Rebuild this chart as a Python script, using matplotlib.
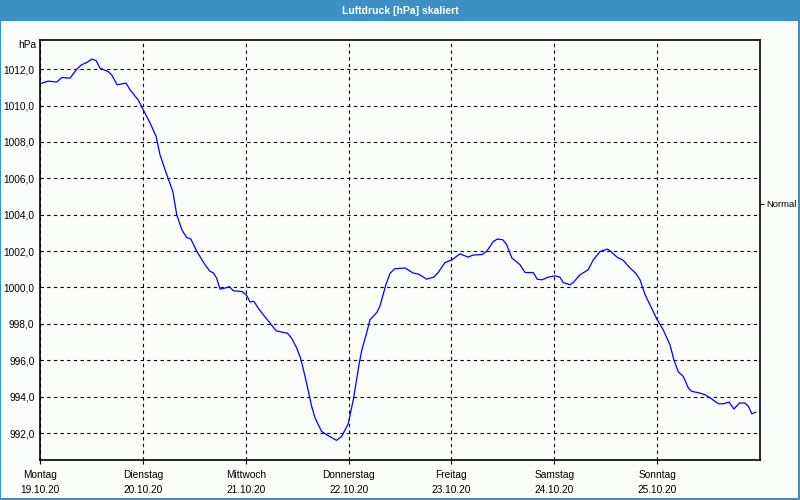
import matplotlib.pyplot as plt
from matplotlib.patches import Rectangle

# hours since Monday 19.10.20 00:00 and pressure in hPa
hours = [0.0, 1.9, 3.9, 5.1, 7.0, 8.6, 9.7, 10.9, 12.1, 13.1, 14.0, 15.9, 16.7,
         18.0, 20.1, 21.0, 22.9, 24.1, 25.7, 27.1, 28.0, 29.6, 31.0, 31.9, 33.1,
         34.2, 35.2, 36.6, 38.5, 39.7, 40.4, 41.2, 42.0, 43.2, 44.2, 45.1, 47.1,
         48.2, 49.0, 49.9, 50.9, 52.1, 53.7, 55.1, 56.4, 57.7, 58.7, 59.9, 60.7,
         61.1, 62.2, 63.4, 64.2, 65.7, 67.3, 69.2, 70.4, 71.9, 73.1, 74.5, 75.1,
         76.1, 77.0, 78.6, 79.3, 80.7, 81.7, 82.8, 85.2, 87.1, 88.3, 90.2, 91.9,
         92.9, 94.5, 96.1, 98.0, 99.9, 101.0, 103.1, 104.2, 105.8, 106.7, 108.0,
         108.9, 110.1, 112.0, 113.2, 115.1, 116.0, 117.1, 118.6, 120.2, 121.3,
         122.1, 123.7, 124.4, 126.0, 127.9, 129.1, 130.7, 132.4, 133.2, 134.6,
         136.1, 137.7, 139.1, 140.0, 141.2, 142.7, 144.0, 145.4, 147.0, 147.9,
         148.9, 150.1, 151.3, 152.1, 154.0, 155.2, 156.7, 158.3, 159.4, 160.8,
         161.9, 163.2, 164.5, 165.3, 166.1, 167.0]
pressure = [1011.19, 1011.34, 1011.29, 1011.54, 1011.50, 1012.00, 1012.24, 1012.36,
            1012.55, 1012.47, 1012.05, 1011.87, 1011.69, 1011.14, 1011.23, 1010.86,
            1010.31, 1009.76, 1009.03, 1008.30, 1007.29, 1006.19, 1005.27, 1004.00,
            1003.17, 1002.75, 1002.66, 1001.98, 1001.25, 1000.88, 1000.82, 1000.52,
            999.91, 999.97, 1000.05, 999.82, 999.78, 999.58, 999.20, 999.24, 998.87,
            998.50, 998.04, 997.62, 997.55, 997.49, 997.22, 996.67, 996.18, 995.85,
            994.75, 993.46, 992.82, 992.09, 991.85, 991.60, 991.82, 992.50, 993.83,
            995.85, 996.58, 997.40, 998.23, 998.63, 998.96, 1000.15, 1000.79, 1001.03,
            1001.07, 1000.79, 1000.74, 1000.46, 1000.57, 1000.82, 1001.37, 1001.52,
            1001.85, 1001.67, 1001.78, 1001.81, 1001.98, 1002.53, 1002.66, 1002.62,
            1002.35, 1001.62, 1001.25, 1000.82, 1000.82, 1000.46, 1000.42, 1000.57,
            1000.64, 1000.57, 1000.27, 1000.15, 1000.27, 1000.70, 1000.97, 1001.52,
            1001.98, 1002.11, 1001.98, 1001.67, 1001.49, 1001.07, 1000.76, 1000.42,
            999.60, 998.87, 998.23, 997.68, 996.85, 996.03, 995.38, 995.11, 994.47,
            994.29, 994.20, 994.10, 993.88, 993.61, 993.61, 993.70, 993.32, 993.65,
            993.65, 993.46, 993.06, 993.15]

day_names = ["Montag", "Dienstag", "Mittwoch", "Donnerstag", "Freitag", "Samstag", "Sonntag"]
day_dates = ["19.10.20", "20.10.20", "21.10.20", "22.10.20", "23.10.20", "24.10.20", "25.10.20"]
y_ticks = [992, 994, 996, 998, 1000, 1002, 1004, 1006, 1008, 1010, 1012]
normal_level = 1004.6

bar_blue = "#3d8fc4"
bg = "#fbfdfb"
plt.rcParams["font.family"] = ["Liberation Sans", "DejaVu Sans"]

fig = plt.figure(figsize=(8, 5), dpi=100, facecolor=bg)
ax = fig.add_axes([0.05, 0.08, 0.9, 0.84], facecolor=bg)

ax.plot(hours, pressure, color="#0000ff", lw=0.9)

ax.set_xlim(0, 168)
ax.set_ylim(990.52, 1013.6)
ax.set_xticks([24 * i for i in range(7)])
ax.set_xticklabels([f"{n}\n{d}" for n, d in zip(day_names, day_dates)],
                   fontsize=7.3, linespacing=1.6)
ax.set_yticks(y_ticks)
ax.set_yticklabels([f"{v},0" for v in y_ticks], fontsize=7.3)
ax.tick_params(axis="x", length=3, width=0.8, pad=4)
ax.tick_params(axis="y", length=0, pad=4)
ax.grid(True, color="black", linestyle=(0, (3, 3)), linewidth=0.8)
for s in ax.spines.values():
    s.set_linewidth(1.2)

ax2 = ax.twinx()
ax2.set_ylim(ax.get_ylim())
ax2.set_yticks([normal_level])
ax2.set_yticklabels(["Normal"], fontsize=6.8)
ax2.tick_params(axis="y", length=3, width=0.8, pad=1.5)
for s in ax2.spines.values():
    s.set_visible(False)

fig.text(36 / 800, 1 - 45 / 500, "hPa", ha="right", va="center", fontsize=7.3)

# title bar and window border
fig.patches.append(Rectangle((0, 0.958), 1, 0.042, transform=fig.transFigure,
                             facecolor=bar_blue, edgecolor="none", zorder=0))
fig.patches.append(Rectangle((0.0006, 0.002), 0.9982, 0.99, transform=fig.transFigure,
                             facecolor="none", edgecolor=bar_blue, lw=1.5, zorder=0))
fig.text(0.5, 0.979, "Luftdruck [hPa] skaliert", ha="center", va="center",
         color="white", fontsize=7.5, fontweight="bold")

fig.savefig("out.png", dpi=100, facecolor=bg)
